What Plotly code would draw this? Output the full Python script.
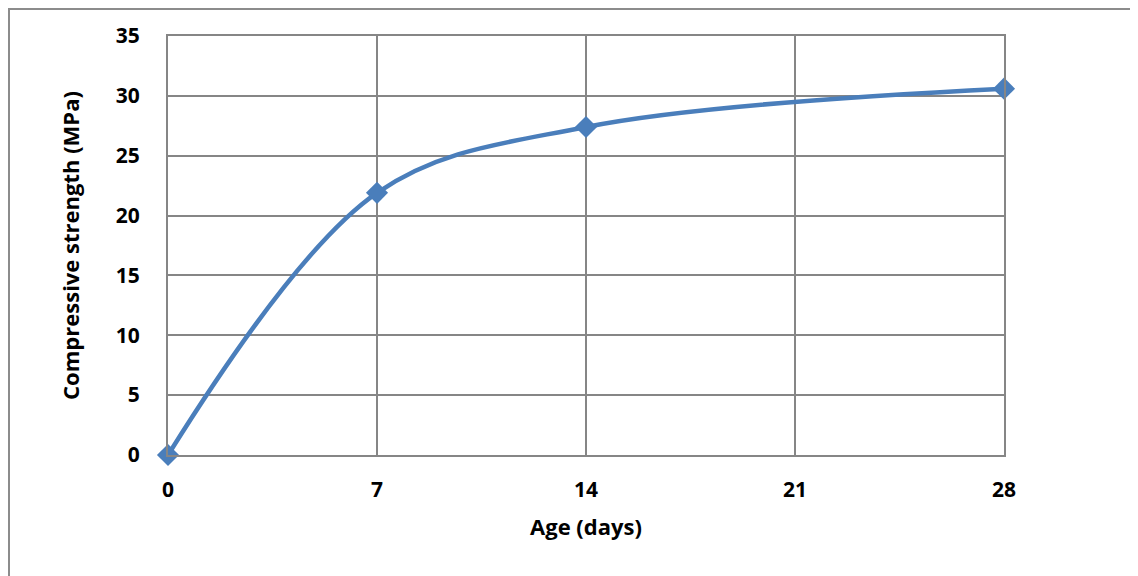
import plotly.graph_objects as go

age_days = [0, 7, 14, 28]
strength_mpa = [0, 21.9, 27.4, 30.6]
x_ticks = [0, 7, 14, 21, 28]
y_ticks = [0, 5, 10, 15, 20, 25, 30, 35]

grid = "#868686"
blue = "#4A7EBB"
fam = "'Open Sans', 'Noto Sans', sans-serif"
tick_font = dict(family=fam, size=21, color="black", weight="bold")
title_font = dict(family=fam, size=22, color="black", weight="bold")

fig = go.Figure()
fig.add_trace(go.Scatter(
    x=age_days, y=strength_mpa, mode="lines+markers",
    line=dict(color=blue, width=4.5, shape="spline", smoothing=1.0),
    marker=dict(symbol="diamond", size=17, color=blue),
    cliponaxis=False, showlegend=False,
))

fig.update_layout(
    width=1138, height=576,
    margin=dict(l=160, r=142, t=28, b=129),
    paper_bgcolor="white", plot_bgcolor="white",
    font=dict(family=fam, size=20, color="black"),
    xaxis=dict(
        range=[0, 28], tickvals=x_ticks, ticktext=[str(v) for v in x_ticks],
        showgrid=True, gridcolor=grid, gridwidth=2,
        showline=True, linecolor=grid, linewidth=2, mirror=True,
        zeroline=False, ticks="", ticklabelstandoff=15,
        tickfont=tick_font,
        title=dict(text="Age (days)", standoff=17, font=title_font),
    ),
    yaxis=dict(
        range=[0, 35], tickvals=y_ticks, ticktext=[str(v) for v in y_ticks],
        showgrid=True, gridcolor=grid, gridwidth=2,
        showline=True, linecolor=grid, linewidth=2, mirror=True,
        zeroline=False, ticks="", ticklabelstandoff=22,
        tickfont=tick_font,
        title=dict(text="Compressive strength (MPa)", standoff=30, font=title_font),
    ),
    shapes=[dict(
        type="rect", xref="paper", yref="paper",
        x0=-0.1902, x1=1.2, y0=-0.35, y1=1.0644,
        line=dict(color="#8C8C8C", width=2), fillcolor="rgba(0,0,0,0)", layer="below",
    )],
)

fig.write_html("out.html")
